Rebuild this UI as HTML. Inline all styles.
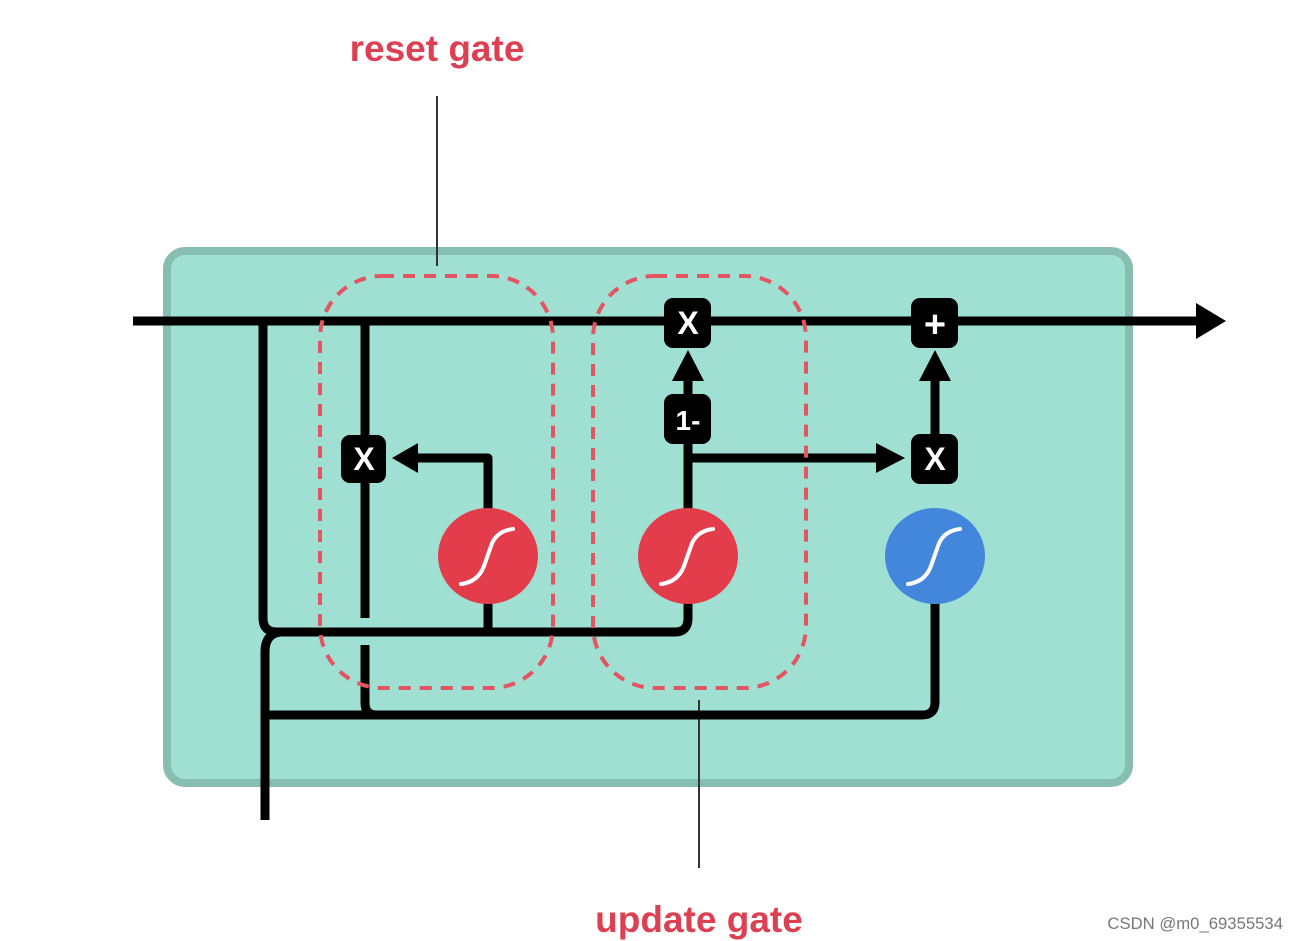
<!DOCTYPE html>
<html><head><style>
html,body{margin:0;padding:0;background:#fff;}
svg{display:block;}
</style></head><body>
<svg width="1299" height="941" viewBox="0 0 1299 941" xmlns="http://www.w3.org/2000/svg">
<rect x="167" y="251" width="962" height="532" rx="18" fill="#a0e0d3" stroke="#86bfb1" stroke-width="8"/>
<line x1="437" y1="96" x2="437" y2="266" stroke="#333" stroke-width="2"/>
<line x1="699" y1="700" x2="699" y2="868" stroke="#333" stroke-width="2"/>
<g fill="none" stroke="#000" stroke-width="9" stroke-linejoin="round">
<line x1="133" y1="321" x2="1196" y2="321"/>
<path d="M263 321 V618 Q263 632 277 632 H675 Q688 632 688 618 V560"/>
<path d="M488 632 V458 H415"/>
<path d="M365 321 V618"/>
<path d="M365 645 V703 Q365 715 377 715"/>
<path d="M265 820 V652 Q265 634 280 632"/>
<path d="M265 715 H922 Q935 715 935 702 V560"/>
<path d="M688 560 V370"/>
<path d="M688 458 H880"/>
<path d="M935 458 V370"/>
</g>
<polygon points="1196,303 1226,321 1196,339" fill="#000"/>
<polygon points="392,458 418,443 418,473" fill="#000"/>
<polygon points="905,458 876,443 876,473" fill="#000"/>
<polygon points="688,350 672,381 704,381" fill="#000"/>
<polygon points="935,350 919,381 951,381" fill="#000"/>
<rect x="320" y="276" width="233" height="412" rx="62" fill="none" stroke="#e25561" stroke-width="4" stroke-dasharray="12,9"/>
<rect x="593" y="276" width="213" height="412" rx="62" fill="none" stroke="#e25561" stroke-width="4" stroke-dasharray="12,9"/>
<g fill="#000">
<rect x="341" y="435" width="45" height="48" rx="9"/>
<rect x="664" y="298" width="47" height="50" rx="9"/>
<rect x="664" y="394" width="47" height="50" rx="9"/>
<rect x="911" y="298" width="47" height="50" rx="9"/>
<rect x="911" y="434" width="47" height="50" rx="9"/>
</g>
<g fill="#fff" font-family="Liberation Sans, sans-serif" font-weight="bold" text-anchor="middle">
<text x="364" y="470" font-size="32">X</text>
<text x="688" y="334" font-size="32">X</text>
<text x="935" y="470" font-size="32">X</text>
<text x="935" y="337" font-size="38">+</text>
<text x="688" y="430" font-size="28">1-</text>
</g>
<ellipse cx="488" cy="556" rx="50" ry="48" fill="#e33c4b"/>
<ellipse cx="688" cy="556" rx="50" ry="48" fill="#e33c4b"/>
<ellipse cx="935" cy="556" rx="50" ry="48" fill="#4287dc"/>
<g fill="none" stroke="#fff" stroke-width="4" stroke-linecap="round">
<path d="M461 584 Q478 582 484 566 L491 546 Q496 531 513 529"/>
<path d="M661 584 Q678 582 684 566 L691 546 Q696 531 713 529"/>
<path d="M908 584 Q925 582 931 566 L938 546 Q943 531 960 529"/>
</g>
<g fill="#dc4052" font-family="Liberation Sans, sans-serif" font-weight="bold" font-size="37" text-anchor="middle">
<text x="437" y="61">reset gate</text>
<text x="699" y="932">update gate</text>
</g>
<text x="1283" y="929" fill="#777" font-family="Liberation Sans, sans-serif" font-size="16.7" text-anchor="end">CSDN @m0_69355534</text>
</svg>
</body></html>
